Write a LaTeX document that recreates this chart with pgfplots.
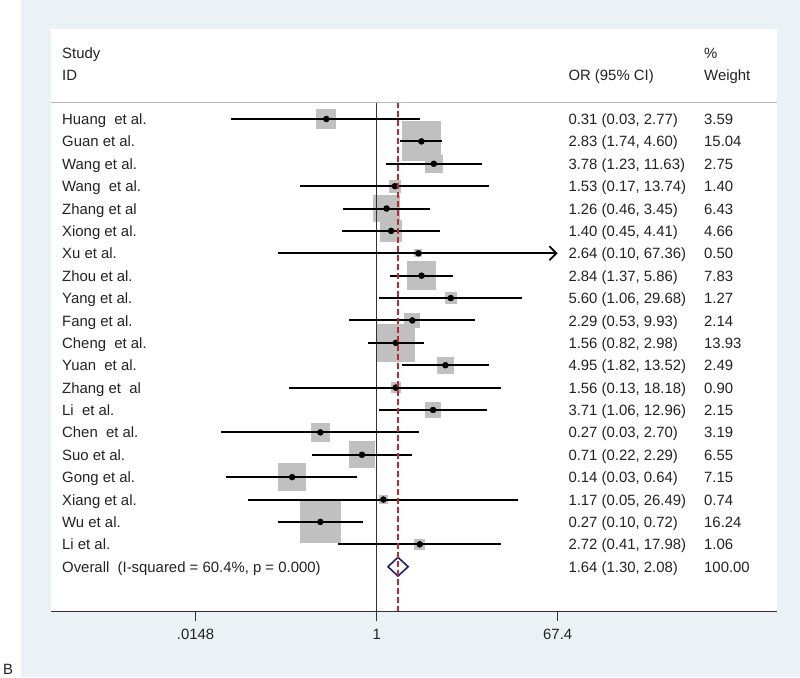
\documentclass[border=0pt]{standalone}
\usepackage{fontspec}
\setmainfont{Liberation Sans}
\usepackage{pgfplots}
\pgfplotsset{compat=1.18}
\usepackage{pgfplotstable}
\usetikzlibrary{arrows.meta}

\definecolor{bgblue}{RGB}{234,242,246}
\definecolor{boxgray}{RGB}{192,192,192}
\definecolor{redl}{RGB}{193,39,45}
\definecolor{navyd}{RGB}{32,32,120}
\definecolor{txt}{RGB}{35,35,35}
\definecolor{axisgray}{RGB}{50,50,50}
\definecolor{sepgray}{RGB}{185,185,185}

% study data: row, odds ratio, lower, upper, weight
\pgfplotstableread{
row or    lo     hi     w
1   0.31  0.034  2.77   3.59
2   2.83  1.74   4.60   15.04
3   3.78  1.23   11.63  2.75
4   1.53  0.17   13.74  1.40
5   1.26  0.46   3.45   6.43
6   1.40  0.45   4.41   4.66
7   2.64  0.10   67.36  0.50
8   2.84  1.37   5.86   7.83
9   5.60  1.06   29.68  1.27
10  2.29  0.53   9.93   2.14
11  1.56  0.82   2.98   13.93
12  4.95  1.82   13.52  2.49
13  1.56  0.13   18.18  0.90
14  3.71  1.06   12.96  2.15
15  0.27  0.027  2.70   3.19
16  0.71  0.22   2.29   6.55
17  0.14  0.03   0.64   7.15
18  1.17  0.05   26.49  0.74
19  0.27  0.10   0.72   16.24
20  2.72  0.41   17.98  1.06
}\forestdata

\begin{document}
\fontsize{14.9}{17.9}\selectfont
\begin{tikzpicture}
\useasboundingbox (0pt,0pt) rectangle (800pt,677pt);
\fill[bgblue] (20.5pt,0pt) rectangle (800pt,677pt);
\fill[white] (51pt,65.3pt) rectangle (776.7pt,647.7pt);
\begin{axis}[
  at={(51pt,65.3pt)}, anchor=south west,
  scale only axis, width=725.7pt, height=582.4pt,
  xmode=log, xmin=5.13e-4, xmax=1.099e4,
  ymin=-23.01, ymax=3.007,
  axis line style={draw=none},
  ytick=\empty,
  xtick={0.0148,1,67.4}, xticklabels={},
  xtick pos=bottom, tick align=outside, major tick length=9pt,
  x tick style={line width=1.2pt, color=axisgray},
  clip=false, clip marker paths=true,
  ci/.style={black, line width=2pt},
]
% weight boxes
\addplot[scatter, only marks, mark=square*,
  mark options={draw=boxgray, fill=boxgray, line width=0pt},
  scatter/use mapped color={draw=boxgray, fill=boxgray},
  visualization depends on={5*sqrt(\thisrow{w}) \as \ms},
  scatter/@pre marker code/.append style={/tikz/mark size=\ms}]
  table[x=or, y expr=-\thisrow{row}] {\forestdata};
% line of no effect
\addplot[axisgray, line width=1.3pt] coordinates {(1,-0.254) (1,-23.01)};
% confidence intervals
\addplot[ci] coordinates {(0.034,-1) (2.77,-1)};
\addplot[ci] coordinates {(1.74,-2) (4.60,-2)};
\addplot[ci] coordinates {(1.23,-3) (11.63,-3)};
\addplot[ci] coordinates {(0.17,-4) (13.74,-4)};
\addplot[ci] coordinates {(0.46,-5) (3.45,-5)};
\addplot[ci] coordinates {(0.45,-6) (4.41,-6)};
\addplot[ci, -{Straight Barb[length=7pt,width=14pt,line width=1.8pt]}] coordinates {(0.10,-7) (67.36,-7)};
\addplot[ci] coordinates {(1.37,-8) (5.86,-8)};
\addplot[ci] coordinates {(1.06,-9) (29.68,-9)};
\addplot[ci] coordinates {(0.53,-10) (9.93,-10)};
\addplot[ci] coordinates {(0.82,-11) (2.98,-11)};
\addplot[ci] coordinates {(1.82,-12) (13.52,-12)};
\addplot[ci] coordinates {(0.13,-13) (18.18,-13)};
\addplot[ci] coordinates {(1.06,-14) (12.96,-14)};
\addplot[ci] coordinates {(0.027,-15) (2.70,-15)};
\addplot[ci] coordinates {(0.22,-16) (2.29,-16)};
\addplot[ci] coordinates {(0.03,-17) (0.64,-17)};
\addplot[ci] coordinates {(0.05,-18) (26.49,-18)};
\addplot[ci] coordinates {(0.10,-19) (0.72,-19)};
\addplot[ci] coordinates {(0.41,-20) (17.98,-20)};
% point estimates
\addplot[only marks, mark=*, mark size=3pt, black]
  table[x=or, y expr=-\thisrow{row}] {\forestdata};
% overall diamond
\addplot[navyd, line width=1.6pt, mark=none] coordinates {(1.30,-21) (1.64,-20.58) (2.08,-21) (1.64,-21.42)} -- cycle;
% overall estimate line
\addplot[redl, line width=1.2pt, dash pattern=on 5.5pt off 3.5pt] coordinates {(1.64,-0.254) (1.64,-23.01)};
% tick labels
\node[anchor=base, inner sep=0pt, text=txt, yshift=-27.5pt] at (axis cs:0.0148,-23.01) {.0148};
\node[anchor=base, inner sep=0pt, text=txt, yshift=-27.5pt] at (axis cs:1,-23.01) {1};
\node[anchor=base, inner sep=0pt, text=txt, yshift=-27.5pt] at (axis cs:67.4,-23.01) {67.4};
\end{axis}
% bottom axis line and header separator
\draw[axisgray, line width=1.2pt] (51pt,65.3pt) -- (776.7pt,65.3pt);
\draw[sepgray, line width=0.9pt] (51pt,574.7pt) -- (776.7pt,574.7pt);
% header and table text
\begin{scope}[every node/.style={inner sep=0pt, text=txt, anchor=base west}]
\node at (62pt,618pt) {Study};
\node at (62pt,596pt) {ID};
\node at (568.3pt,596pt) {OR (95\% CI)};
\node at (704pt,618pt) {\%};
\node at (704pt,596pt) {Weight};
\foreach \i/\n/\o/\w in {
 1/{Huang\ \ et al.}/{0.31 (0.03, 2.77)}/{3.59},
 2/{Guan et al.}/{2.83 (1.74, 4.60)}/{15.04},
 3/{Wang et al.}/{3.78 (1.23, 11.63)}/{2.75},
 4/{Wang\ \ et al.}/{1.53 (0.17, 13.74)}/{1.40},
 5/{Zhang et al}/{1.26 (0.46, 3.45)}/{6.43},
 6/{Xiong et al.}/{1.40 (0.45, 4.41)}/{4.66},
 7/{Xu et al.}/{2.64 (0.10, 67.36)}/{0.50},
 8/{Zhou et al.}/{2.84 (1.37, 5.86)}/{7.83},
 9/{Yang et al.}/{5.60 (1.06, 29.68)}/{1.27},
 10/{Fang et al.}/{2.29 (0.53, 9.93)}/{2.14},
 11/{Cheng\ \ et al.}/{1.56 (0.82, 2.98)}/{13.93},
 12/{Yuan\ \ et al.}/{4.95 (1.82, 13.52)}/{2.49},
 13/{Zhang et\ \ al}/{1.56 (0.13, 18.18)}/{0.90},
 14/{Li\ \ et al.}/{3.71 (1.06, 12.96)}/{2.15},
 15/{Chen\ \ et al.}/{0.27 (0.03, 2.70)}/{3.19},
 16/{Suo et al.}/{0.71 (0.22, 2.29)}/{6.55},
 17/{Gong et al.}/{0.14 (0.03, 0.64)}/{7.15},
 18/{Xiang et al.}/{1.17 (0.05, 26.49)}/{0.74},
 19/{Wu et al.}/{0.27 (0.10, 0.72)}/{16.24},
 20/{Li et al.}/{2.72 (0.41, 17.98)}/{1.06},
 21/{Overall\ \ (I-squared = 60.4\%, p = 0.000)}/{1.64 (1.30, 2.08)}/{100.00}}{
  \pgfmathsetmacro\yb{677-(119+(\i-1)*22.385)-5.6}
  \node at (62pt,\yb pt) {\n};
  \node at (568.3pt,\yb pt) {\o};
  \node at (704pt,\yb pt) {\w};
}
\node at (3pt,2pt) {B};
\end{scope}
\end{tikzpicture}
\end{document}
